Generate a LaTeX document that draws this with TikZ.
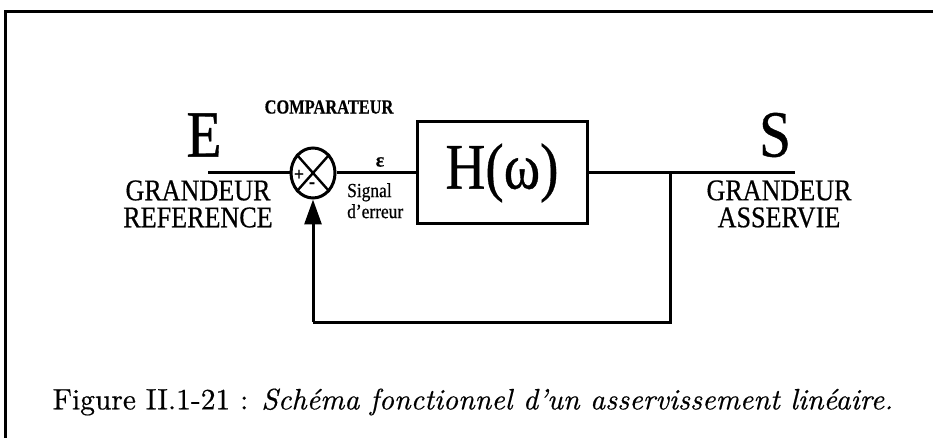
\documentclass[tikz,border=0pt]{standalone}
\usepackage{fontspec}
\newfontfamily\tms{Liberation Serif}[FakeBold=0.6]
\newfontfamily\cmten{lmroman10}[Extension=.otf, UprightFont=*-regular, ItalicFont=*-italic, FakeBold=0.5]
\usetikzlibrary{arrows.meta,shapes.geometric}
\newcommand{\nar}[2][0.87]{\scalebox{#1}[1]{#2}}
\begin{document}
\begin{tikzpicture}[x=1pt,y=-1pt,
  ln/.style={line width=3pt},
  tx/.style={inner sep=0pt, font=\tms},
  bigtxt/.style={tx, font=\tms\fontsize{66}{66}\selectfont},
  captxt/.style={tx, font=\tms\fontsize{30}{27}\selectfont, align=center},
  smltxt/.style={tx, font=\tms\fontsize{20}{21}\selectfont},
  arr/.style={ln, -{Triangle[length=25pt,width=17pt]}},
]
\useasboundingbox (0,0) rectangle (933,438);
% frame
\draw[ln] (5,438) -- (5,12) -- (933,12);

% blocks
\node[draw, ln, ellipse, minimum width=44pt, minimum height=50pt, inner sep=0pt] (cmp) at (313,173) {};
\draw[line width=2.4pt] (cmp.north east) -- (cmp.south west) (cmp.north west) -- (cmp.south east);
\node[draw, ln, minimum width=170pt, minimum height=102pt, inner sep=0pt] (H) at (502,173)
  {\nar[0.85]{\tms\fontsize{65}{65}\selectfont H(ω)}};

% coordinates
\coordinate (in) at (208,173);
\coordinate (out) at (795,173);
\coordinate (br) at (670,173);
\coordinate (bb) at (313,322);

% connectors
\draw[ln] (in) -- (cmp.west);
\draw[ln] (cmp.east) -- (H.west);
\draw[ln] (H.east) -- (out);
\draw[ln] (br) |- (bb);
\draw[arr] (bb) -- (cmp.south);

% labels
\node[bigtxt] (E) at (204,135) {\nar{E}};
\node[bigtxt] (S) at (775,135) {\nar{S}};
\node[tx, font=\tms\bfseries\fontsize{20}{20}\selectfont] (cl) at (329,107) {\nar[0.82]{COMPARATEUR}};
\node[tx, font=\tms\bfseries\fontsize{20}{20}\selectfont] (eps) at (380,162) {ε};
\node[smltxt, align=left, anchor=north west] (sig) at (347,183) {\nar{Signal}\\\nar{d’erreur}};
\node[tx, font=\tms\bfseries\fontsize{18}{18}\selectfont] (plus) at (299,175) {+};
\node[tx, font=\tms\bfseries\fontsize{18}{18}\selectfont] (minus) at (312,185) {-};
\node[captxt] (gr) at (198,204) {\nar{GRANDEUR}\\\nar{REFERENCE}};
\node[captxt] (ga) at (779,204) {\nar{GRANDEUR}\\\nar{ASSERVIE}};

% caption
\node[inner sep=0pt, font=\cmten\fontsize{29.5}{29.5}\selectfont] (fig) at (473,402)
  {Figure II.1-21 : \textit{Schéma fonctionnel d’un asservissement linéaire.}};
\end{tikzpicture}
\end{document}
